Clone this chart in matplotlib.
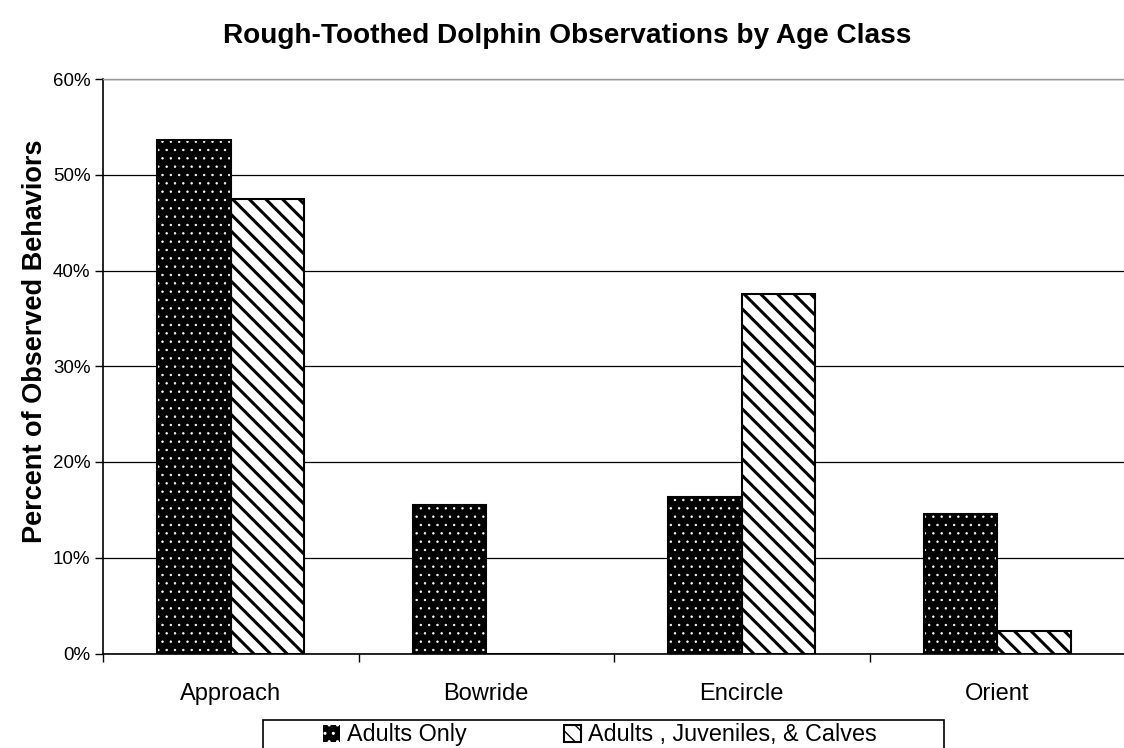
import matplotlib
matplotlib.use('Agg')
import matplotlib.pyplot as plt
import numpy as np
from matplotlib.ticker import FixedLocator, FuncFormatter
from matplotlib.patches import Rectangle

categories = ['Approach', 'Bowride', 'Encircle', 'Orient']
adults_only = [53.6, 15.5, 16.3, 14.6]
adults_juv_calves = [47.5, 0.0, 37.5, 2.4]
series_labels = ['Adults Only', 'Adults , Juveniles, & Calves']
yticks = [0, 10, 20, 30, 40, 50, 60]
title = 'Rough-Toothed Dolphin Observations by Age Class'
ylabel = 'Percent of Observed Behaviors'

plt.rcParams['font.family'] = ['Liberation Sans', 'DejaVu Sans']

W, H = 1124, 748
fig = plt.figure(figsize=(W / 100, H / 100), dpi=100)
fig.patch.set_facecolor('white')
ax = fig.add_axes([103 / W, 1 - 653.5 / H, 1022 / W, (653.5 - 79) / H])

x = np.arange(len(categories))
w = 0.287

with plt.rc_context({'hatch.linewidth': 0.5}):
    b1 = ax.bar(x - w / 2, adults_only, w, color='black', edgecolor='white',
                hatch='..', linewidth=0, zorder=3, label=series_labels[0])
ax.bar(x - w / 2, adults_only, w, fill=False, edgecolor='black', linewidth=1.5, zorder=4)
with plt.rc_context({'hatch.linewidth': 2.2}):
    b2 = ax.bar(x + w / 2, adults_juv_calves, w, color='white', edgecolor='black',
                hatch='\\\\', linewidth=1.5, zorder=3, label=series_labels[1])

ax.set_xlim(-0.5, len(categories) - 0.5)
ax.set_ylim(0, 60)
ax.yaxis.set_major_locator(FixedLocator(yticks))
ax.yaxis.set_major_formatter(FuncFormatter(lambda v, p: f'{v:.0f}%'))
ax.grid(axis='y', color='black', linewidth=0.9, zorder=1)
ax.set_axisbelow(True)

ax.set_xticks(x)
ax.set_xticklabels(categories, fontsize=17)
ax.set_xticks(np.arange(len(categories) + 1) - 0.5, minor=True)
ax.tick_params(axis='x', which='major', length=0, pad=21)
ax.tick_params(axis='x', which='minor', length=6, width=1, direction='out')
ax.tick_params(axis='y', which='major', length=6, width=1, direction='out', labelsize=13.5, pad=3)

for s in ['top', 'right']:
    ax.spines[s].set_color('#999999')
    ax.spines[s].set_linestyle((0, (1, 1)))
    ax.spines[s].set_linewidth(1)
ax.spines['left'].set_linewidth(1.2)
ax.spines['bottom'].set_linewidth(1.2)

fig.text(567 / W, 1 - 36 / H, title, ha='center', va='center', fontsize=20.2, fontweight='bold')
fig.text(35 / W, 1 - 341 / H, ylabel, ha='center', va='center', rotation=90,
         fontsize=19.5, fontweight='bold')

# legend
fig.patches.append(Rectangle((263 / W, 1 - 770 / H), (944 - 263) / W, 50 / H,
                             transform=fig.transFigure, facecolor='white',
                             edgecolor='black', linewidth=1.2, zorder=5))
leg = fig.legend([b1, b2], series_labels, loc='center', bbox_to_anchor=(600 / W, 1 - 735 / H),
                 ncol=2, frameon=False, fontsize=16.8, handlelength=0.7, handleheight=0.7,
                 handletextpad=0.3, columnspacing=4.2, borderpad=0)
leg.set_zorder(6)

fig.savefig('out.png', dpi=100, facecolor='white')
